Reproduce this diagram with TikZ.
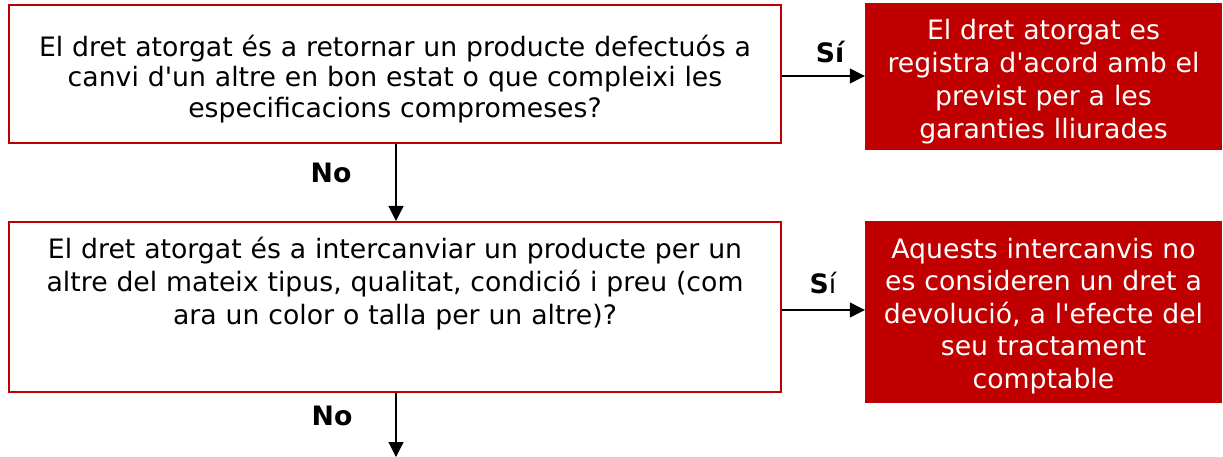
\documentclass[tikz,border=0pt]{standalone}
\usepackage{fontspec}
\setmainfont{DejaVu Sans}
\usepackage{xcolor}
\usepackage{tikz}
\usetikzlibrary{positioning,calc,arrows.meta}
\definecolor{fosc}{HTML}{C00000}
\newcommand{\ap}{\textquotesingle}
\tikzstyle{pregunta}= [rectangle, draw=fosc, line width=2pt, inner sep=0pt, minimum width=772pt]
\tikzstyle{resposta}= [rectangle, fill=fosc, text=white, inner sep=0pt, minimum width=357pt, text width=350pt, align=center]
\tikzstyle{fletxa}= [-{Triangle[width=15pt,length=15pt]}, line width=1.2pt]
\tikzstyle{etiq}= [font=\fontsize{26.7}{31}\selectfont\bfseries]

\begin{document}
\begin{tikzpicture}[x=1pt, y=-1pt, font=\fontsize{26.7}{30.5}\selectfont]
				\useasboundingbox (0, 0) rectangle (1223, 457);
				\node[pregunta, minimum height=138pt] (q1) at (395, 74) {};
				\node[text width=770pt, align=center, inner sep=0pt, font=\fontsize{26.7}{30.8}\selectfont] (q1t) at (395, 79) {El dret atorgat és a retornar un producte defectuós a\\canvi d\ap un altre en bon estat o que compleixi les\\especificacions compromeses?};
				\node[pregunta, minimum height=170pt] (q2) at (395, 307) {};
				\node[anchor=north, text width=770pt, align=center, inner sep=0pt, font=\fontsize{26.7}{32.8}\selectfont] (q2t) at (395, 237) {El dret atorgat és a intercanviar un producte per un\\altre del mateix tipus, qualitat, condició i preu (com\\ara un color o talla per un altre)?};
				\node[resposta, minimum height=147pt] (r1) at (1043.5, 76.5) {};
				\node[text=white, text width=355pt, align=center, inner sep=0pt, font=\fontsize{26.7}{33}\selectfont] (r1t) at (1043.5, 82) {El dret atorgat es\\registra d\ap acord amb el\\previst per a les\\garanties lliurades};
				\node[resposta, minimum height=182pt] (r2) at (1043.5, 312) {};
				\node[text=white, text width=355pt, align=center, inner sep=0pt, font=\fontsize{26.7}{32.5}\selectfont] (r2t) at (1043.5, 316) {Aquests intercanvis no\\es consideren un dret a\\devolució, a l\ap efecte del\\seu tractament\\comptable};
				\coordinate (fi) at (396, 457);
				\draw[fletxa] (q1.east |- 0, 76) -- (r1.west |- 0, 76);
				\draw[fletxa] (q2.east |- 0, 310) -- (r2.west |- 0, 310);
				\draw[fletxa] (q1.south -| 396, 0) -- (q2.north -| 396, 0);
				\draw[fletxa] (q2.south -| 396, 0) -- (fi);
				\node[etiq] (si1) at (830, 52) {Sí};
				\node[font=\fontsize{26.7}{31}\selectfont] (si2) at (823, 283) {\textbf{S}í};
				\node[etiq] (no1) at (331, 173) {No};
				\node[etiq] (no2) at (332, 416) {No};
			\end{tikzpicture}
\end{document}
